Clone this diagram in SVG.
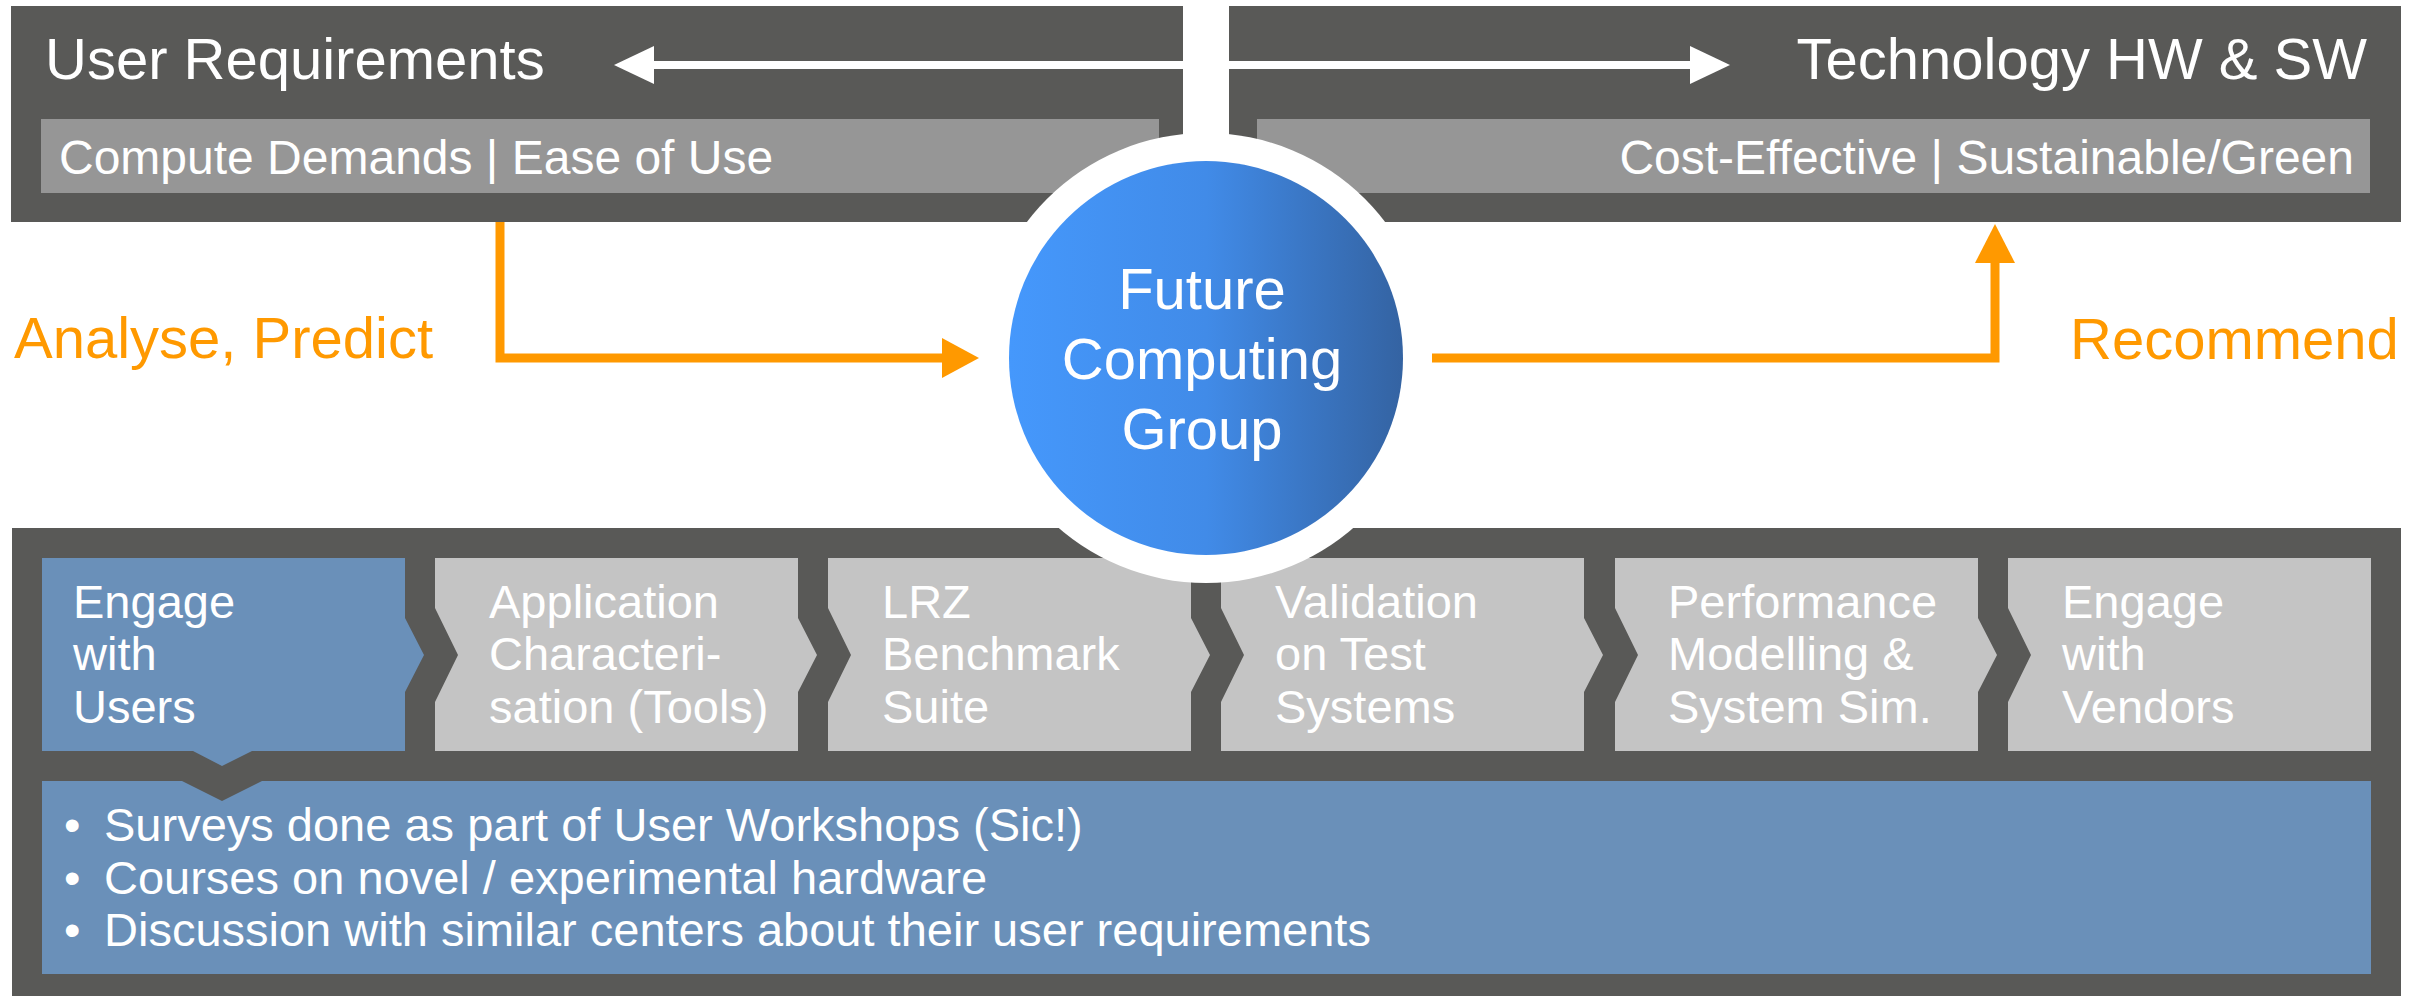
<svg xmlns="http://www.w3.org/2000/svg" width="2420" height="999" viewBox="0 0 2420 999">
<defs>
<style>
text{font-family:"Liberation Sans",Arial,sans-serif;}
.dark{fill:#595957;}
.mid{fill:#969696;}
.chev{fill:#C4C4C4;}
.blue{fill:#6A90B9;}
.wt{fill:#FFFFFF;}
.h1{font-size:58px;fill:#FFFFFF;}
.h2{font-size:48px;fill:#FFFFFF;}
.or{font-size:58px;fill:#FF9900;}
.ct{font-size:47px;fill:#FFFFFF;}
.conn{fill:none;stroke:#FF9900;stroke-width:9;}
.warr{fill:none;stroke:#FFFFFF;stroke-width:8;}
</style>
<linearGradient id="cg" x1="0" y1="0" x2="1" y2="0">
<stop offset="0" stop-color="#4598FC"/>
<stop offset="0.5" stop-color="#418BE8"/>
<stop offset="1" stop-color="#3463A2"/>
</linearGradient>
</defs>
<rect width="2420" height="999" fill="#FFFFFF"/>

<g id="user-requirements">
<rect class="dark" x="11" y="6" width="1172" height="216"/>
<rect class="mid" x="41" y="119" width="1118" height="74"/>
<text class="h1" x="45" y="79">User Requirements</text>
<text class="h2" x="59" y="174">Compute Demands | Ease of Use</text>
</g>

<g id="technology">
<rect class="dark" x="1229" y="6" width="1172" height="216"/>
<rect class="mid" x="1257" y="119" width="1113" height="74"/>
<text class="h1" x="2367" y="79" text-anchor="end">Technology HW &amp; SW</text>
<text class="h2" x="2354" y="174" text-anchor="end">Cost-Effective | Sustainable/Green</text>
</g>

<g id="process-panel">
<rect class="dark" x="12" y="528" width="2389" height="468"/>
</g>

<g id="step-engage-users">
<path class="blue" d="M42,558 H405 V618 L424,655 L405,692 V751 H252 L222,766 L193,751 H42 Z"/>
<text class="ct" x="73" y="618">Engage</text>
<text class="ct" x="73" y="670">with</text>
<text class="ct" x="73" y="723">Users</text>
</g>
<g id="step-app-char">
<path class="chev" d="M435,558 H798 V618 L817,655 L798,692 V751 H435 V702 L458,655 L435,608 Z"/>
<text class="ct" x="489" y="618">Application</text>
<text class="ct" x="489" y="670">Characteri-</text>
<text class="ct" x="489" y="723">sation (Tools)</text>
</g>
<g id="step-lrz">
<path class="chev" d="M828,558 H1191 V618 L1210,655 L1191,692 V751 H828 V702 L851,655 L828,608 Z"/>
<text class="ct" x="882" y="618">LRZ</text>
<text class="ct" x="882" y="670">Benchmark</text>
<text class="ct" x="882" y="723">Suite</text>
</g>
<g id="step-validation">
<path class="chev" d="M1221,558 H1584 V618 L1603,655 L1584,692 V751 H1221 V702 L1244,655 L1221,608 Z"/>
<text class="ct" x="1275" y="618">Validation</text>
<text class="ct" x="1275" y="670">on Test</text>
<text class="ct" x="1275" y="723">Systems</text>
</g>
<g id="step-performance">
<path class="chev" d="M1615,558 H1978 V618 L1997,655 L1978,692 V751 H1615 V702 L1638,655 L1615,608 Z"/>
<text class="ct" x="1668" y="618">Performance</text>
<text class="ct" x="1668" y="670">Modelling &amp;</text>
<text class="ct" x="1668" y="723">System Sim.</text>
</g>
<g id="step-vendors">
<path class="chev" d="M2008,558 H2371 V751 H2008 V702 L2031,655 L2008,608 Z"/>
<text class="ct" x="2062" y="618">Engage</text>
<text class="ct" x="2062" y="670">with</text>
<text class="ct" x="2062" y="723">Vendors</text>
</g>

<g id="details">
<path class="blue" d="M42,781 H182 L222,801 L262,781 H2371 V974 H42 Z"/>
<text class="ct" x="64" y="841">•</text>
<text class="ct" x="104" y="841">Surveys done as part of User Workshops (Sic!)</text>
<text class="ct" x="64" y="894">•</text>
<text class="ct" x="104" y="894">Courses on novel / experimental hardware</text>
<text class="ct" x="64" y="946">•</text>
<text class="ct" x="104" y="946">Discussion with similar centers about their user requirements</text>
</g>

<g id="connectors">
<line class="warr" x1="650" y1="65" x2="1696" y2="65"/>
<polygon class="wt" points="614,65 654,46 654,84"/>
<polygon class="wt" points="1730,65 1690,46 1690,84"/>
<polyline class="conn" points="500,222 500,358 944,358"/>
<polygon fill="#FF9900" points="979,358 942,338 942,378"/>
<polyline class="conn" points="1432,358 1995,358 1995,260"/>
<polygon fill="#FF9900" points="1995,224 1975,263 2015,263"/>
</g>

<g id="labels">
<text class="or" x="14" y="358">Analyse, Predict</text>
<text class="or" x="2070" y="359">Recommend</text>
</g>

<g id="future-computing-group">
<circle cx="1206" cy="358" r="225" fill="#FFFFFF"/>
<circle cx="1206" cy="358" r="197" fill="url(#cg)"/>
<text class="h1" x="1202" y="309" text-anchor="middle">Future</text>
<text class="h1" x="1202" y="379" text-anchor="middle">Computing</text>
<text class="h1" x="1202" y="449" text-anchor="middle">Group</text>
</g>
</svg>
